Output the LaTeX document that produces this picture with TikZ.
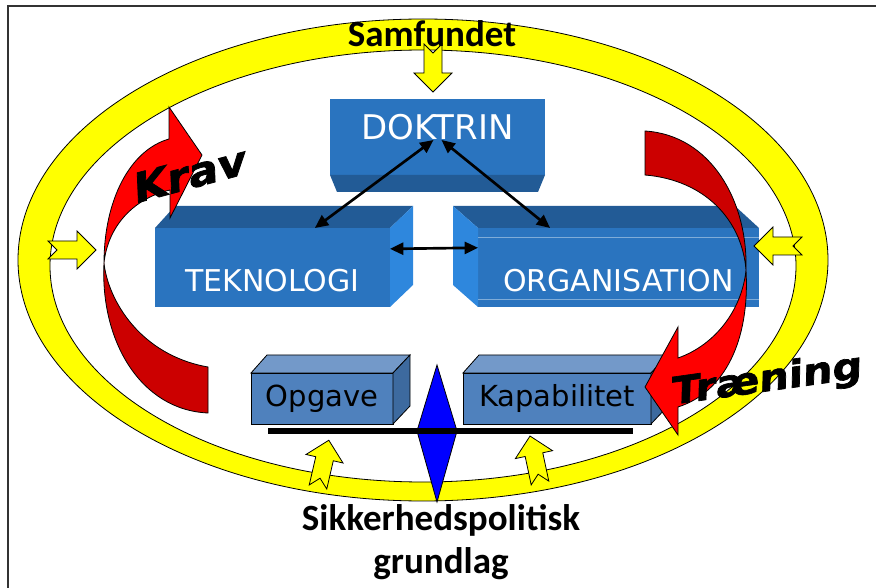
\documentclass[tikz,border=0pt]{standalone}
\usepackage{fontspec}
\setmainfont{DejaVu Sans}
\newfontfamily\calfont{Carlito}
\newfontfamily\heavyfont[FakeBold=1.8]{DejaVu Sans Bold}
\usetikzlibrary{arrows.meta,positioning,calc}

\definecolor{boxblue}{HTML}{2A74BF}
\definecolor{boxtop}{HTML}{225B96}
\definecolor{boxside}{HTML}{2E87DD}
\definecolor{steel}{HTML}{4F81BD}
\definecolor{steeltop}{HTML}{7399C9}
\definecolor{steelside}{HTML}{3D6A9F}
\definecolor{ringyellow}{HTML}{FFFF00}
\definecolor{darkred}{HTML}{CC0000}

\tikzset{
  notcharrow/.pic={
    \filldraw[fill=ringyellow, draw=black, line width=0.6pt]
      (0,-9) -- (29,-9) -- (29,-19) -- (48,0) -- (29,19) -- (29,9) -- (0,9) -- (9,0) -- cycle;
  }
}

\begin{document}
\begin{tikzpicture}[x=0.75pt, y=-0.75pt,
  every node/.style={inner sep=0pt, outer sep=0pt},
  front/.style={fill=boxblue, minimum height=59.25pt},
  boxlabel/.style={text=white, font=\fontsize{22.5}{27}\selectfont},
  block/.style={draw=black, line width=0.6pt, fill=steel, minimum height=38.25pt, font=\fontsize{21.75}{26}\selectfont},
  link/.style={line width=2pt, {Triangle[length=10pt,width=9pt]}-{Triangle[length=10pt,width=9pt]}},
  edged/.style={draw=black, line width=0.6pt},
  bigtitle/.style={font=\calfont\bfseries\fontsize{27.75}{32.5}\selectfont},
  bentword/.style={font=\heavyfont\fontsize{30}{36}\selectfont},
]
\useasboundingbox (0,0) rectangle (876,588);
\draw[line width=1.1pt, black!80] (8,588) -- (8,6) -- (876,6);

% ring
\filldraw[fill=ringyellow, edged, even odd rule] (423,260) ellipse [x radius=405, y radius=241]
  (423,266) ellipse [x radius=373, y radius=216];

% DOKTRIN
\node[front, minimum width=161.25pt, minimum height=57pt] (dokfront) at (437.5,137) {};
\fill[boxtop] (dokfront.south west) -- (dokfront.south east) -- ++(-7,17) -- ($(dokfront.south west)+(7,17)$) -- cycle;
\node[boxlabel, font=\fontsize{25.5}{30}\selectfont, above=26.25pt of dokfront.south] (doktrin) {DOKTRIN};

% TEKNOLOGI
\node[front, minimum width=176.25pt] (tekfront) at (272.5,267.5) {};
\fill[boxtop] (tekfront.north west) -- ++(20,-22) -- ($(tekfront.north east)+(23,-22)$) -- (tekfront.north east) -- cycle;
\fill[boxside] (tekfront.north east) -- ++(23,-22) -- ($(tekfront.south east)+(23,-22)$) -- (tekfront.south east) -- cycle;
\node[boxlabel, above=11.25pt of tekfront.south] (teknologi) {TEKNOLOGI};

% ORGANISATION
\node[front, minimum width=210.75pt] (orgfront) at (618.5,267.5) {};
\fill[boxtop] (orgfront.north east) -- ++(-24,-22) -- ($(orgfront.north west)+(-25,-22)$) -- (orgfront.north west) -- cycle;
\fill[boxside] (orgfront.north west) -- ++(-25,-22) -- ($(orgfront.south west)+(-25,-22)$) -- (orgfront.south west) -- cycle;
\draw[boxblue!60!white, line width=0.5pt] ([yshift=-6.75pt]orgfront.north west) -- ([yshift=-6.75pt]orgfront.north east);
\draw[boxblue!60!white, line width=0.5pt] ([yshift=6pt]orgfront.south west) -- ([yshift=6pt]orgfront.south east);
\node[boxlabel, above=11.25pt of orgfront.south] (organisation) {ORGANISATION};

% links
\draw[link] ([xshift=-3pt]doktrin.south) -- (tekfront.43);
\draw[link] ([xshift=3pt]doktrin.south) -- (orgfront.150);
\draw[link] (tekfront.9) -- (orgfront.172);

% Opgave / Kapabilitet
\node[block, minimum width=106.5pt] (opgave) at (322,398.5) {Opgave};
\filldraw[fill=steeltop, edged] (opgave.north west) -- ++(16,-18) -- ($(opgave.north east)+(17,-18)$) -- (opgave.north east) -- cycle;
\filldraw[fill=steelside, edged] (opgave.north east) -- ++(17,-18) -- ($(opgave.south east)+(17,-18)$) -- (opgave.south east) -- cycle;
\node[block, minimum width=141pt] (kapabilitet) at (557,398.5) {Kapabilitet};
\filldraw[fill=steeltop, edged] (kapabilitet.north west) -- ++(16,-18) -- ($(kapabilitet.north east)+(17,-18)$) -- (kapabilitet.north east) -- cycle;
\filldraw[fill=steelside, edged] (kapabilitet.north east) -- ++(17,-18) -- ($(kapabilitet.south east)+(17,-18)$) -- (kapabilitet.south east) -- cycle;

% Krav arrow
\filldraw[fill=darkred, edged] (208,367) -- (208,413) .. controls (140,410) and (100,340) .. (104,263)
  .. controls (108,300) and (140,355) .. (208,367) -- cycle;
\filldraw[fill=red, edged] (104,263) .. controls (104,200) and (130,150) .. (169,139) -- (169,107) -- (202,155)
  -- (170,218) -- (170,190) .. controls (135,198) and (108,225) .. (104,263) -- cycle;

% Traening arrow
\filldraw[fill=darkred, edged] (645,131) .. controls (710,135) and (748,200) .. (746,270)
  .. controls (742,220) and (705,180) .. (645,175) -- cycle;
\filldraw[fill=red, edged] (746,270) .. controls (750,340) and (725,392) .. (678,407) -- (678,435) -- (645,387)
  -- (678,327) -- (678,358) .. controls (715,345) and (742,310) .. (746,270) -- cycle;

% balance
\filldraw[fill=blue, edged] (437,365) -- (457,431) -- (437,502) -- (417,431) -- cycle;
\draw[line width=4.5pt] (268,431) -- (633,431);

% yellow arrows
\pic[rotate=-90] at (433,44) {notcharrow};
\pic at (48,250) {notcharrow};
\pic[rotate=180] at (802,246) {notcharrow};
\pic[rotate=77] at (318,487) {notcharrow};
\pic[rotate=102] at (540,483) {notcharrow};

% texts
\node[bigtitle, anchor=base] (samfundet) at (432,47) {Samfundet};
\node[bigtitle, align=center, anchor=north] (grundlag) at (441,504) {Sikkerhedspolitisk\\grundlag};
\node[bentword, rotate=15, xscale=1.12, xslant=0.2] (krav) at (190,174) {Krav};
\node[bentword, font=\heavyfont\fontsize{28}{33}\selectfont, rotate=8, xscale=1.12, xslant=0.15] (traening) at (767,381) {Træning};
\end{tikzpicture}
\end{document}
